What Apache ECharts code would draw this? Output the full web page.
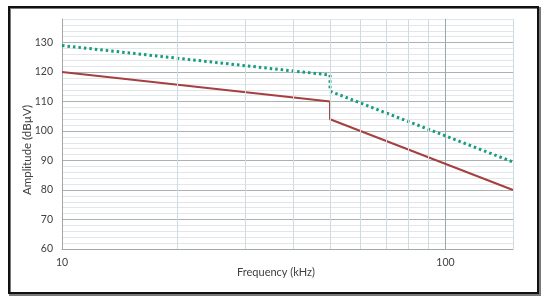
<!DOCTYPE html>
<html>
<head>
<meta charset="utf-8">
<script src="https://cdn.jsdelivr.net/npm/echarts@6/dist/echarts.min.js"></script>
<style>
html,body{margin:0;padding:0;background:#fff;}
#c{width:550px;height:304px;}
</style>
</head>
<body>
<div id="c"></div>
<script>
// Data
const limitSolid = [[10, 120], [50, 110], [50, 104], [150, 80]];
const limitDotted = [[10, 129], [50, 119], [50, 113.5], [150, 89.5]];
const xMinorGrid = [20, 30, 40, 50, 60, 70, 80, 90, 150];
const xLabels = [10, 100];
const yMajorLabels = [60, 70, 80, 90, 100, 110, 120, 130];

const FONT = 'Lato';
const chart = echarts.init(document.getElementById('c'), null, {renderer: 'canvas'});
chart.setOption({
  backgroundColor: '#fff',
  animation: false,
  grid: {left: 62, right: 37, top: 19, bottom: 55, containLabel: false},
  xAxis: {
    type: 'log', logBase: 10, min: 10, max: 150,
    axisLine: {show: true, lineStyle: {color: '#a6a6a6', width: 1}},
    axisTick: {show: false},
    axisLabel: {
      color: '#404040', fontFamily: FONT, fontSize: 10.5, margin: 8,
      showMaxLabel: false,
      formatter: v => xLabels.indexOf(Math.round(v)) >= 0 ? String(Math.round(v)) : ''
    },
    splitLine: {show: true, lineStyle: {color: '#98a8ae', width: 1}},
    minorTick: {show: false}, minorSplitLine: {show: false}
  },
  yAxis: {
    type: 'value', min: 60, max: 138, interval: 2,
    axisLine: {show: true, lineStyle: {color: '#a6a6a6', width: 1}},
    axisTick: {show: false},
    axisLabel: {
      color: '#404040', fontFamily: FONT, fontSize: 10.5, margin: 9,
      formatter: v => yMajorLabels.indexOf(v) >= 0 ? String(v) : ''
    },
    splitLine: {show: true, lineStyle: {color: ['#a9b3b3', '#e2e6e8', '#e2e6e8', '#e2e6e8', '#e2e6e8'], width: 1}}
  },
  graphic: [
    {type: 'rect', shape: {x: 10, y: 8, width: 530, height: 287}, style: {fill: 'none', stroke: '#7a7a7a', lineWidth: 2}, z: 0},
    {type: 'rect', shape: {x: 9, y: 7, width: 529, height: 286}, style: {fill: 'none', stroke: '#111', lineWidth: 2}, z: 1},
    {type: 'text', left: 237, top: 267, style: {text: 'Frequency (kHz)', fill: '#404040', font: '11px Lato'}},
    {type: 'text', x: 27, y: 150, rotation: Math.PI / 2, style: {text: 'Amplitude (dBµV)', fill: '#404040', font: '11.5px Lato', align: 'center', verticalAlign: 'middle'}}
  ],
  series: [
    {
      type: 'line', data: [], z: 1, silent: true,
      markLine: {
        silent: true, symbol: ['none', 'none'], animation: false,
        label: {show: false},
        lineStyle: {color: '#cfdbe3', width: 1, type: 'solid'},
        data: xMinorGrid.map(v => ({xAxis: v}))
      }
    },
    {
      type: 'line', data: limitDotted, z: 3, symbol: 'none',
      lineStyle: {color: '#169c7e', width: 3, type: [2.5, 3]}
    },
    {
      type: 'line', data: limitSolid, z: 4, symbol: 'none',
      lineStyle: {color: '#a4403f', width: 2}
    }
  ]
});
</script>
</body>
</html>
